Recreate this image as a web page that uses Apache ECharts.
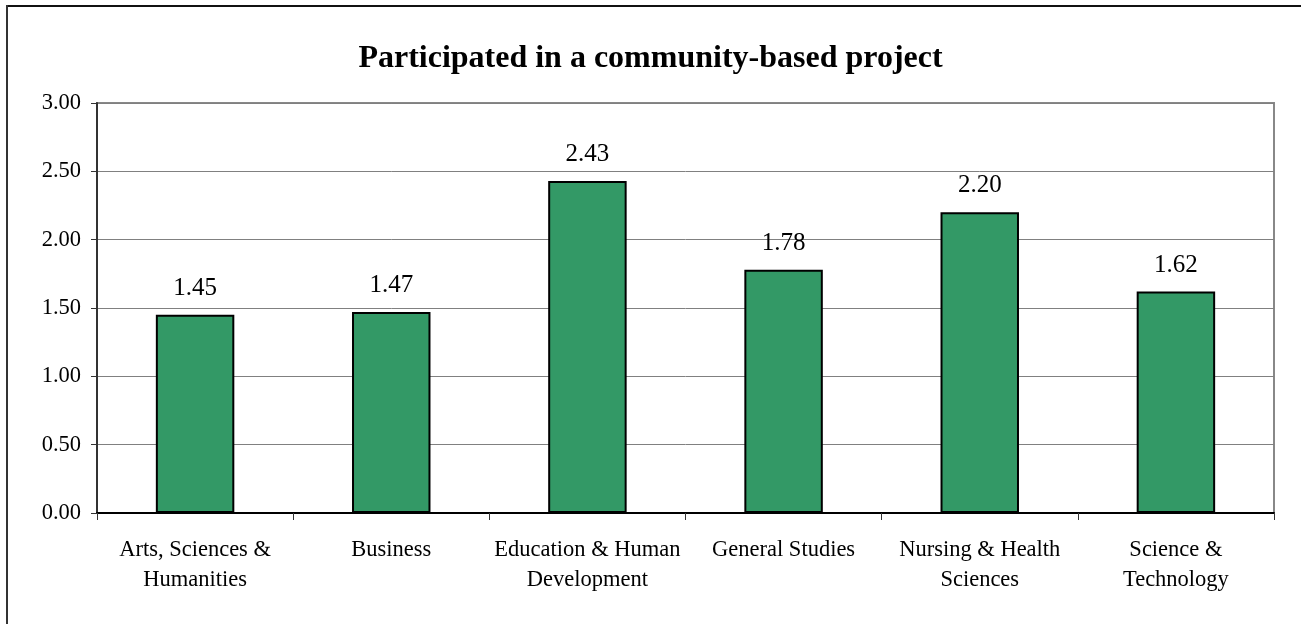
<!DOCTYPE html>
<html>
<head>
<meta charset="utf-8">
<script src="https://cdn.jsdelivr.net/npm/echarts@6/dist/echarts.min.js"></script>
<style>
    html, body { margin: 0; padding: 0; background: #fff; }
    #chart { width: 1301px; height: 624px; }
</style>
</head>
<body>
<div id="chart"></div>
<script>
    // categories (wrapped like the original axis labels)
    var categories = [
        'Arts, Sciences &\nHumanities',
        'Business',
        'Education & Human\nDevelopment',
        'General Studies',
        'Nursing & Health\nSciences',
        'Science &\nTechnology'
    ];
    var values = [1.45, 1.47, 2.43, 1.78, 2.20, 1.62];
    var titleText = 'Participated in a community-based project';

    var serif = '"Liberation Serif", "Times New Roman", serif';

    var chart = echarts.init(document.getElementById('chart'));
    var option = {
        animation: false,
        backgroundColor: '#fff',
        title: {
            text: titleText,
            left: 'center',
            top: 38,
            textStyle: { fontFamily: serif, fontSize: 32, fontWeight: 'bold', color: '#000' }
        },
        // outer frame of the chart (only top and left edges are visible)
        graphic: [
            { type: 'line', shape: { x1: 6, y1: 6, x2: 1301, y2: 6 }, style: { stroke: '#111', lineWidth: 2 } },
            { type: 'line', shape: { x1: 7, y1: 5, x2: 7, y2: 624 }, style: { stroke: '#333', lineWidth: 2 } }
        ],
        grid: {
            left: 97,
            right: 27,
            top: 103,
            bottom: 111,
            show: true,
            borderColor: '#888',
            borderWidth: 2
        },
        xAxis: {
            type: 'category',
            data: categories,
            axisLine: { lineStyle: { color: '#000', width: 2 } },
            axisTick: { show: true, alignWithLabel: false, length: 7, lineStyle: { color: '#333', width: 1 } },
            axisLabel: {
                fontFamily: serif, fontSize: 22.5, color: '#000',
                margin: 22, lineHeight: 30, interval: 0
            },
            splitLine: { show: false }
        },
        yAxis: {
            type: 'value',
            min: 0,
            max: 3,
            interval: 0.5,
            axisLine: { show: true, lineStyle: { color: '#333', width: 2 } },
            axisTick: { show: true, length: 6, lineStyle: { color: '#333', width: 1 } },
            axisLabel: {
                fontFamily: serif, fontSize: 22.5, color: '#000', margin: 16,
                formatter: function (v) { return v.toFixed(2); }
            },
            splitLine: { show: true, lineStyle: { color: '#808080', width: 1 } }
        },
        series: [{
            type: 'bar',
            data: values,
            barWidth: '40%',
            itemStyle: { color: '#339966', borderColor: '#000', borderWidth: 2 },
            label: {
                show: true,
                position: 'top',
                distance: 14,
                fontFamily: serif,
                fontSize: 25,
                color: '#000',
                formatter: function (p) { return p.value.toFixed(2); }
            }
        }]
    };
    chart.setOption(option);
</script>
</body>
</html>
